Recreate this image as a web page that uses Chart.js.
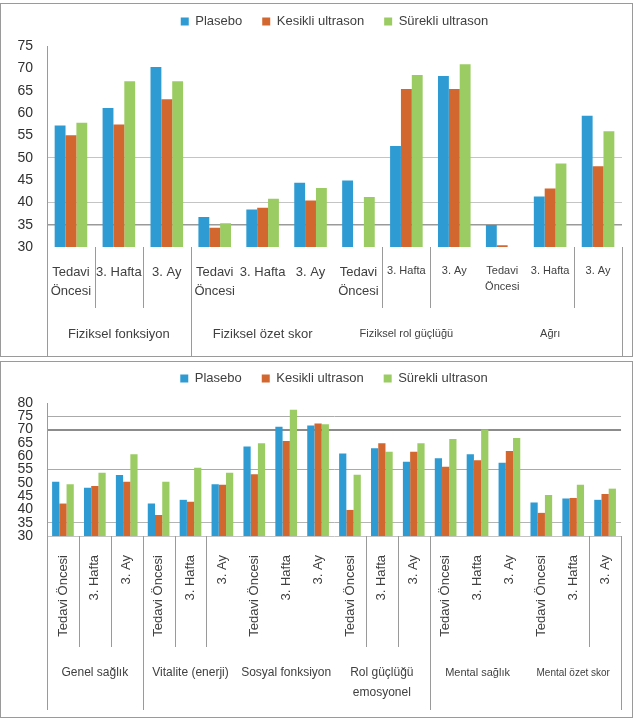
<!DOCTYPE html>
<html>
<head>
<meta charset="utf-8">
<script src="https://cdn.jsdelivr.net/npm/chart.js@4"></script>
<style>
    body { margin: 0; background: #fff; }
    .panel { position: absolute; left: 0; width: 633px; box-sizing: border-box; border: 1px solid #9a9a9a; background: #fff; }
    #p1 { top: 3px; height: 354px; }
    #p2 { top: 361px; height: 357px; }
    canvas { display: block; }
</style>
</head>
<body>
<div class="panel" id="p1"><canvas id="chartTop" width="631" height="352"></canvas></div>
<div class="panel" id="p2"><canvas id="chartBottom" width="631" height="355"></canvas></div>

<script>
// ---- Data ----
const seriesNames = ['Plasebo', 'Kesikli ultrason', 'Sürekli ultrason'];
const periods = ['Tedavi Öncesi', '3. Hafta', '3. Ay'];

// top chart
const groupsTop = ['Fiziksel fonksiyon', 'Fiziksel özet skor', 'Fiziksel rol güçlüğü', 'Ağrı'];
const plaseboTop = [57.2, 61.1, 70.3, 36.7, 38.4, 44.4, 44.9, 52.6, 68.3, 34.9, 41.3, 59.4];
const kesikliTop = [55.0, 57.4, 63.1, 34.3, 38.8, 40.4, null, 65.4, 65.4, 30.4, 43.1, 48.1];
const surekliTop = [57.8, 67.1, 67.1, 35.3, 40.8, 43.2, 41.2, 68.5, 70.9, null, 48.7, 55.9];
const yTicksTop = [30, 35, 40, 45, 50, 55, 60, 65, 70, 75];

// bottom chart
const groupsBottom = ['Genel sağlık', 'Vitalite (enerji)', 'Sosyal fonksiyon', ['Rol güçlüğü', 'emosyonel'], 'Mental sağlık', 'Mental özet skor'];
const plaseboBottom = [50.4, 48.1, 52.9, 42.2, 43.6, 49.5, 63.6, 71.1, 71.5, 61.0, 63.0, 57.9, 59.2, 60.7, 57.5, 42.6, 44.1, 43.6];
const kesikliBottom = [42.2, 48.8, 50.4, 37.9, 42.9, 49.3, 53.2, 65.7, 72.3, 39.8, 64.9, 61.7, 56.0, 58.5, 62.0, 38.7, 44.3, 45.8];
const surekliBottom = [49.5, 53.8, 60.7, 50.4, 55.7, 53.8, 64.9, 77.5, 72.0, 53.0, 61.7, 64.9, 66.5, 70.0, 66.8, 45.4, 49.3, 47.8];
const yTicksBottom = [30, 35, 40, 45, 50, 55, 60, 65, 70, 75, 80];

const FONT = "'Liberation Sans', Arial, sans-serif";
const colors = ['#2e9bd3', '#d2672f', '#9bcc63'];
const textColor = '#404040';

// draws the category dividers and the outer group labels under the x axis
const groupAxis = {
    id: 'groupAxis',
    afterDraw(chart, args, o) {
        const { ctx, chartArea } = chart;
        const x = chart.scales.x;
        const base = chartArea.bottom;
        ctx.save();
        ctx.strokeStyle = o.lineColor;
        ctx.lineWidth = 1;
        o.dividers.forEach(b => {
            const px = Math.round(x.getPixelForValue(b - 0.5)) + 0.5;
            const len = b % o.perGroup === 0 ? o.longLen : o.shortLen;
            ctx.beginPath();
            ctx.moveTo(px, base);
            ctx.lineTo(px, base + len);
            ctx.stroke();
        });
        ctx.fillStyle = textColor;
        ctx.textAlign = 'center';
        ctx.textBaseline = 'middle';
        o.groups.forEach((g, i) => {
            const left = x.getPixelForValue(i * o.perGroup - 0.5);
            const right = x.getPixelForValue((i + 1) * o.perGroup - 0.5);
            ctx.font = o.sizes[i] + 'px ' + FONT;
            [].concat(g).forEach((t, k) => {
                ctx.fillText(t, (left + right) / 2, base + o.labelOffset + k * o.lineHeight);
            });
        });
        ctx.restore();
    }
};

function makeDatasets(values) {
    return values.map((v, i) => ({
        label: seriesNames[i],
        data: v,
        backgroundColor: colors[i],
        borderWidth: 0,
        barPercentage: 1.0,
        categoryPercentage: 0.68
    }));
}

function baseOptions(yTicks, gridStyle, xAxis, groupOpts, padTop, legendGap) {
    return {
        responsive: false,
        animation: false,
        layout: { padding: { top: padTop, right: 10, left: 0, bottom: 0 } },
        plugins: {
            legend: {
                position: 'top',
                fullSize: false,
                labels: {
                    boxWidth: 8,
                    boxHeight: 8,
                    padding: 20,
                    color: textColor,
                    font: { family: FONT, size: 13 }
                }
            },
            tooltip: { enabled: false },
            groupAxis: groupOpts
        },
        scales: {
            x: xAxis,
            // empty top axis, only keeps a gap between legend and plot
            gap: {
                type: 'linear',
                position: 'top',
                grid: { display: false },
                border: { display: false },
                ticks: { display: false },
                afterFit: s => { s.height = legendGap; }
            },
            y: {
                min: yTicks[0],
                max: yTicks[yTicks.length - 1],
                afterFit: s => { s.width = 46; },
                afterBuildTicks: s => { s.ticks = yTicks.map(v => ({ value: v })); },
                border: { display: true, color: '#9a9a9a' },
                grid: {
                    drawTicks: false,
                    color: c => (gridStyle[c.tick.value] || ['rgba(0,0,0,0)'])[0],
                    lineWidth: c => (gridStyle[c.tick.value] || [0, 1])[1]
                },
                ticks: { autoSkip: false, padding: 14, color: '#303030', font: { family: FONT, size: 14 } }
            }
        }
    };
}

// ---- Top chart ----
const labelsTop = groupsTop.flatMap(() => periods.map(p => p === 'Tedavi Öncesi' ? ['Tedavi', 'Öncesi'] : p));

new Chart(document.getElementById('chartTop'), {
    type: 'bar',
    data: { labels: labelsTop, datasets: makeDatasets([plaseboTop, kesikliTop, surekliTop]) },
    options: baseOptions(
        yTicksTop,
        { 50: ['#c4c4c4', 1], 40: ['#c4c4c4', 1], 35: ['#9a9a9a', 1.5] },
        {
            afterFit: s => { s.height = 109; },
            grid: { display: false },
            border: { display: false },
            ticks: {
                autoSkip: false,
                maxRotation: 0,
                padding: 8,
                color: textColor,
                font: c => ({ family: FONT, size: c.index < 7 ? 13 : 11, lineHeight: 1.45 })
            }
        },
        {
            groups: groupsTop, perGroup: 3, dividers: [0, 1, 2, 3, 7, 8, 11, 12],
            shortLen: 61, longLen: 109, labelOffset: 87, lineHeight: 20,
            sizes: [13, 13, 11, 11], lineColor: '#9a9a9a'
        },
        -9, 8
    ),
    plugins: [groupAxis]
});

// ---- Bottom chart ----
const labelsBottom = groupsBottom.flatMap(() => periods);

new Chart(document.getElementById('chartBottom'), {
    type: 'bar',
    data: { labels: labelsBottom, datasets: makeDatasets([plaseboBottom, kesikliBottom, surekliBottom]) },
    options: baseOptions(
        yTicksBottom,
        { 75: ['#aaaaaa', 1], 70: ['#8c8c8c', 2], 55: ['#aaaaaa', 1], 35: ['#b4b4b4', 1], 30: ['#c4c4c4', 1] },
        {
            afterFit: s => { s.height = 181; },
            grid: { display: false },
            border: { display: false },
            ticks: {
                autoSkip: false,
                minRotation: 90,
                maxRotation: 90,
                padding: 11,
                color: textColor,
                font: { family: FONT, size: 13 }
            }
        },
        {
            groups: groupsBottom, perGroup: 3, dividers: [0, 1, 2, 3, 4, 5, 10, 11, 12, 17, 18],
            shortLen: 111, longLen: 174, labelOffset: 137, lineHeight: 20,
            sizes: [12, 12, 12, 12, 11, 10], lineColor: '#9a9a9a'
        },
        -10, 8
    ),
    plugins: [groupAxis]
});
</script>
</body>
</html>
